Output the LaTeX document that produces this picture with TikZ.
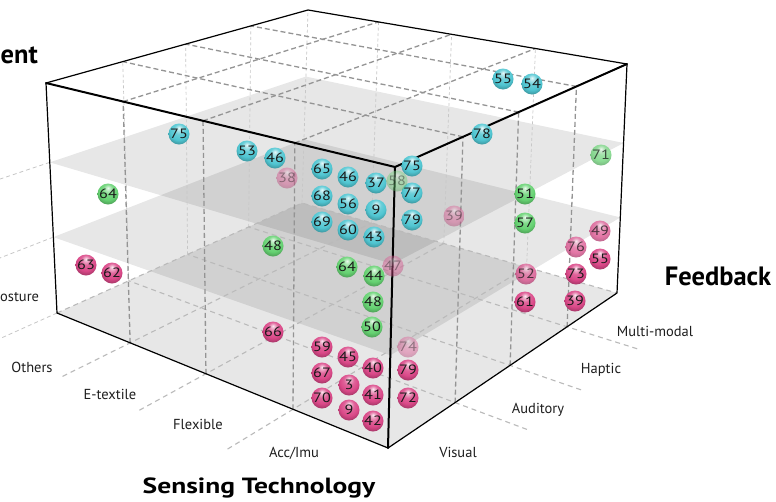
\documentclass[tikz,border=0pt]{standalone}
\usepackage{fontspec}
\setmainfont{PT Sans}
\definecolor{cyb}{RGB}{80,198,210}
\definecolor{grb}{RGB}{102,210,114}
\definecolor{pkb}{RGB}{218,72,136}
\definecolor{lbl}{RGB}{30,30,30}
\pgfdeclareradialshading{sphC}{\pgfpoint{0bp}{15bp}}{color(0bp)=(cyb!10!white); color(4bp)=(cyb!40!white); color(12bp)=(cyb!85!white); color(22bp)=(cyb); color(32bp)=(cyb!72!black); color(42bp)=(cyb!50!black); color(50bp)=(cyb!50!black)}
\pgfdeclareradialshading{sphG}{\pgfpoint{0bp}{15bp}}{color(0bp)=(grb!10!white); color(4bp)=(grb!40!white); color(12bp)=(grb!85!white); color(22bp)=(grb); color(32bp)=(grb!72!black); color(42bp)=(grb!50!black); color(50bp)=(grb!50!black)}
\pgfdeclareradialshading{sphP}{\pgfpoint{0bp}{15bp}}{color(0bp)=(pkb!10!white); color(4bp)=(pkb!40!white); color(12bp)=(pkb!85!white); color(22bp)=(pkb); color(32bp)=(pkb!72!black); color(42bp)=(pkb!50!black); color(50bp)=(pkb!50!black)}
\newcommand\bnum[1]{\scalebox{1.2}[1]{#1}}
\newcommand\mkpt[4]{%
 \pgfmathsetmacro\qqa{(1-(#2))*(1-(#3))}%
 \pgfmathsetmacro\qqb{(#2)*(1-(#3))}%
 \pgfmathsetmacro\qqc{(1-(#2))*(#3)}%
 \pgfmathsetmacro\qqd{(#2)*(#3)}%
 \pgfmathsetmacro\qqx{(1-(#4))*(\qqa*388+\qqb*57+\qqc*617+\qqd*302)+(#4)*(\qqa*395+\qqb*46+\qqc*627+\qqd*308)}%
 \pgfmathsetmacro\qqy{(1-(#4))*(\qqa*448+\qqb*313+\qqc*293+\qqd*203)+(#4)*(\qqa*167+\qqb*83+\qqc*64+\qqd*10)}%
 \coordinate (#1) at (\qqx,\qqy);}
\begin{document}
\begin{tikzpicture}[x=1pt,y=-1pt,
  plane/.style={fill=black,fill opacity=0.095},
  backdash/.style={draw=black!22,line width=0.7pt,dash pattern=on 3pt off 2.5pt},
  floordash/.style={draw=black!27,line width=1.1pt,dash pattern=on 5pt off 4pt},
  tickdash/.style={draw=black!22,line width=0.8pt,dash pattern=on 4pt off 3pt},
  griddash/.style={draw=black!42,line width=1.3pt,dash pattern=on 5pt off 3pt},
  edgethin/.style={draw=black,line width=1.2pt,line join=round},
  edgethick/.style={draw=black,line width=2pt,line cap=round,line join=round},
  ballbase/.style={circle,minimum size=21pt,inner sep=0pt,font=\fontsize{13.5}{14}\selectfont,text=black!90},
  bc/.style={ballbase,shading=sphC},
  bg/.style={ballbase,shading=sphG},
  bp/.style={ballbase,shading=sphP},
  semi/.style={opacity=0.75},
  faded/.style={opacity=0.42},
  lab/.style={font=\fontsize{14.5}{16}\selectfont,text=lbl},
  ttl/.style={font=\bfseries\fontsize{26.5}{28}\selectfont,text=black}
]
\useasboundingbox (0,0) rectangle (776,501);
\fill[white] (0,0) rectangle (776,501);
% corners
\coordinate (F0) at (388,448); \coordinate (F1) at (395,167);
\coordinate (L0) at (57,313);  \coordinate (L1) at (46,83);
\coordinate (R0) at (617,293); \coordinate (R1) at (627,64);
\coordinate (B0) at (302,203); \coordinate (B1) at (308,10);
% translucent planes
\foreach \w in {0,0.33,0.655}{
  \mkpt{pa}{0}{0}{\w}\mkpt{pb}{1}{0}{\w}\mkpt{pc}{1}{1}{\w}\mkpt{pd}{0}{1}{\w}
  \fill[plane] (pa)--(pb)--(pc)--(pd)--cycle;
}
% back faces
\foreach \v in {0.293,0.533,0.782,1}{\mkpt{pa}{1}{\v}{0}\mkpt{pb}{1}{\v}{1}\draw[backdash] (pa)--(pb);}
\foreach \u in {0.287,0.55,0.779}{\mkpt{pa}{\u}{1}{0}\mkpt{pb}{\u}{1}{1}\draw[backdash] (pa)--(pb);}
\draw[floordash] (L0)--(B0)--(R0);
% floor grid with ticks
\foreach \u in {0.287,0.55,0.779}{\mkpt{pa}{\u}{-0.28}{0}\mkpt{pb}{\u}{1}{0}\draw[floordash] (pa)--(pb);}
\foreach \v in {0.293,0.533,0.782}{\mkpt{pa}{-0.22}{\v}{0}\mkpt{pb}{1}{\v}{0}\draw[floordash] (pa)--(pb);}
% left level ticks
\foreach \w in {0,0.33,0.655}{\mkpt{pa}{1}{0}{\w}\mkpt{pb}{1}{-0.4}{\w}\draw[tickdash] (pa)--(pb);}
% top grid
\foreach \u in {0.287,0.55,0.779}{\mkpt{pa}{\u}{0}{1}\mkpt{pb}{\u}{1}{1}\draw[griddash] (pa)--(pb);}
\foreach \v in {0.293,0.533,0.782}{\mkpt{pa}{0}{\v}{1}\mkpt{pb}{1}{\v}{1}\draw[griddash] (pa)--(pb);}
% front face verticals
\foreach \u in {0.287,0.55,0.779}{\mkpt{pa}{\u}{0}{0}\mkpt{pb}{\u}{0}{1}\draw[griddash] (pa)--(pb);}
\foreach \v in {0.293,0.533,0.782}{\mkpt{pa}{0}{\v}{0}\mkpt{pb}{0}{\v}{1}\draw[griddash] (pa)--(pb);}
% box edges
\draw[edgethin] (L1)--(B1)--(R1)--(R0)--(F0)--(L0)--cycle;
\draw[edgethick] (L1)--(F1)--(R1) (F1)--(F0);
% balls
\foreach \x/\y/\t [count=\i] in {179/134/75,247/151/53,275/158/46,322/169/65,348/177/46,376/183/37,412/166/75,322/196/68,348/204/56,376/210/9,412/193/77,322/222/69,348/230/60,374/237/43,412/220/79,482/134/78,503/79/55,532/84/54}
  \node[bc] (c\i) at (\x,\y) {\bnum{\t}};
\foreach \x/\y/\t [count=\i] in {108/194/64,273/246/48,347/267/64,374/276/44,373/302/48,372/327/50,525/194/51,525/223/57}
  \node[bg] (g\i) at (\x,\y) {\bnum{\t}};
\node[bg,semi] (g9) at (601,155) {\bnum{71}};
\node[bg,faded] (g10) at (397,181) {\bnum{58}};
\foreach \x/\y/\t [count=\i] in {86/265/63,112/273/62,273/332/66,322/347/59,348/357/45,373/368/40,322/373/67,349/385/3,373/395/41,322/398/70,349/410/9,373/421/42,408/370/79,408/398/72,600/259/55,576/274/73,525/302/61,575/301/39}
  \node[bp] (p\i) at (\x,\y) {\bnum{\t}};
\node[bp,faded] (q1) at (287,178) {\bnum{38}};
\node[bp,faded] (q2) at (454,216) {\bnum{39}};
\node[bp,faded] (q3) at (393,266) {\bnum{47}};
\node[bp,faded] (q4) at (408,347) {\bnum{74}};
\node[bp,semi] (q5) at (526,274) {\bnum{52}};
\node[bp,semi] (q6) at (576,247) {\bnum{76}};
\node[bp,semi] (q7) at (600,231) {\bnum{49}};
% labels
\node[lab,anchor=base] (l1) at (32,372) {Others};
\node[lab,anchor=base] (l2) at (110,399) {E-textile};
\node[lab,anchor=base] (l3) at (198,429) {Flexible};
\node[lab,anchor=base] (l4) at (294,457) {Acc/Imu};
\node[lab,anchor=base] (m1) at (458,457) {Visual};
\node[lab,anchor=base] (m2) at (538,413) {Auditory};
\node[lab,anchor=base] (m3) at (601,373) {Haptic};
\node[lab,anchor=base] (m4) at (655,336) {Multi-modal};
\node[lab,anchor=base west,inner xsep=0pt] (z1) at (0,301) {osture};
\node[ttl,anchor=base west,inner xsep=0pt] (tz) at (0.5,63) {ent};
\node[ttl,anchor=base,font=\bfseries\fontsize{22}{24}\selectfont] (tx) at (259,493) {\scalebox{1.25}[1]{Sensing Technology}};
\node[ttl,anchor=base] (ty) at (718,285) {Feedback};
\end{tikzpicture}
\end{document}
